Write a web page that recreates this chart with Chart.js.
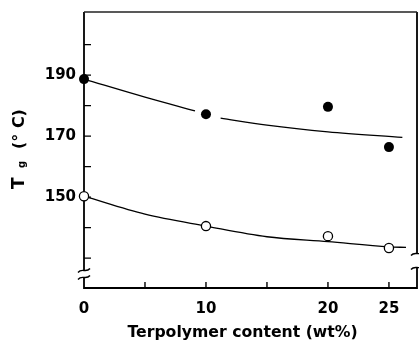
<!DOCTYPE html>
<html>
<head>
<meta charset="utf-8">
<script src="https://cdn.jsdelivr.net/npm/chart.js@4.4.0/dist/chart.umd.min.js"></script>
<style>
  html, body { margin: 0; padding: 0; background: #fff; }
  #wrap { width: 419px; height: 343px; }
</style>
</head>
<body>
<div id="wrap"><canvas id="tgChart" width="419" height="343"></canvas></div>
<script>
// Terpolymer content (wt%) for the measured samples
const contentPct = [0, 10, 20, 25];
// Tg of the two phases, deg C
const tgFilled = [188.7, 177.2, 179.6, 166.4];
const tgOpen = [150.3, 140.5, 137.2, 133.3];

// hand-drawn trend lines (null leaves the gap beside the 10 wt% dot)
const upperLineX = [0, 5, 9.1, 10.2, 11.2, 15, 20, 26.1];
const upperLineY = [188.7, 182.8, 178.3, null, 175.9, 173.6, 171.4, 169.6];
const lowerLineX = [0, 5, 10, 15, 20, 25, 26.4];
const lowerLineY = [150.3, 144.4, 140.5, 137.0, 135.4, 133.7, 133.5];

// axis ticks
const xTickValues = [0, 5, 10, 15, 20, 25];
const xTickLabels = [0, 10, 20, 25];
const yTickValues = [130, 140, 150, 160, 170, 180, 190, 200];
const yTickLabels = [150, 170, 190];

const toPoints = (xs, ys) => xs.map((x, i) => ({ x: x, y: ys[i] }));

Chart.defaults.font.family = "'DejaVu Sans', sans-serif";
Chart.defaults.font.weight = 'bold';
Chart.defaults.color = '#000';

// frame, inward ticks and the axis breaks
const framePlugin = {
  id: 'frame',
  beforeDatasetsDraw(chart) {
    const { ctx, chartArea: a, scales } = chart;
    const xs = scales.x, ys = scales.y;
    ctx.save();
    ctx.strokeStyle = '#000';
    ctx.lineCap = 'butt';

    // box
    ctx.lineWidth = 1.8;
    ctx.beginPath();
    ctx.moveTo(a.left, a.top);
    ctx.lineTo(a.left, a.bottom);
    ctx.lineTo(a.right, a.bottom);
    ctx.lineTo(a.right, a.top);
    ctx.stroke();
    ctx.lineWidth = 1.4;
    ctx.strokeStyle = '#222';
    ctx.beginPath();
    ctx.moveTo(a.left, a.top);
    ctx.lineTo(a.right, a.top);
    ctx.stroke();
    ctx.strokeStyle = '#000';

    // ticks pointing into the plot
    ctx.lineWidth = 1.4;
    ctx.beginPath();
    xTickValues.forEach(v => {
      if (v === 0) return;
      const px = xs.getPixelForValue(v);
      ctx.moveTo(px, a.bottom);
      ctx.lineTo(px, a.bottom - 6);
    });
    yTickValues.forEach(v => {
      const py = ys.getPixelForValue(v);
      ctx.moveTo(a.left, py);
      ctx.lineTo(a.left + 7, py);
    });
    ctx.stroke();

    // break marks
    const drawBreak = (cx, cy, gap) => {
      ctx.fillStyle = '#fff';
      ctx.fillRect(cx - 3, cy - gap / 2, 6, gap);
      ctx.lineWidth = 1.4;
      [-gap / 2, gap / 2].forEach(off => {
        const y0 = cy + off;
        ctx.beginPath();
        ctx.moveTo(cx - 6, y0 + 2);
        ctx.bezierCurveTo(cx - 2, y0 - 3, cx + 2, y0 + 3, cx + 6, y0 - 2);
        ctx.stroke();
      });
    };
    drawBreak(a.left, ys.getPixelForValue(124.8), 7);
    drawBreak(a.right, ys.getPixelForValue(129.2), 14);
    ctx.restore();
  },
  afterDraw(chart) {
    const { ctx, scales } = chart;
    ctx.save();
    ctx.fillStyle = '#000';

    // x title under the axis
    ctx.font = "bold 15.7px 'DejaVu Sans'";
    ctx.textAlign = 'center';
    ctx.textBaseline = 'alphabetic';
    ctx.fillText('Terpolymer content (wt%)', scales.x.getPixelForValue(13), 337);

    // y title: T with subscript g, then (° C), reading upwards
    ctx.translate(24, 189);
    ctx.rotate(-Math.PI / 2);
    ctx.textAlign = 'left';
    ctx.font = "bold 17px 'DejaVu Sans'";
    ctx.fillText('T', 0, 0);
    ctx.font = "bold 10px 'DejaVu Sans'";
    ctx.fillText('g', 21, 1);
    ctx.font = "bold 16px 'DejaVu Sans'";
    ctx.fillText('(\u00B0 C)', 40, 0);
    ctx.restore();
  }
};

new Chart(document.getElementById('tgChart'), {
  type: 'scatter',
  data: {
    datasets: [
      {
        data: toPoints(contentPct, tgFilled),
        backgroundColor: '#000',
        borderColor: '#000',
        borderWidth: 0,
        pointRadius: 5,
        showLine: false,
        clip: false,
        order: 0
      },
      {
        data: toPoints(contentPct, tgOpen),
        backgroundColor: '#fff',
        borderColor: '#000',
        borderWidth: 1.3,
        pointRadius: 4.6,
        showLine: false,
        clip: false,
        order: 0
      },
      {
        data: toPoints(upperLineX, upperLineY),
        showLine: true,
        borderColor: '#000',
        borderWidth: 1.3,
        pointRadius: 0,
        cubicInterpolationMode: 'monotone',
        spanGaps: false,
        clip: false,
        order: 1
      },
      {
        data: toPoints(lowerLineX, lowerLineY),
        showLine: true,
        borderColor: '#000',
        borderWidth: 1.3,
        pointRadius: 0,
        cubicInterpolationMode: 'monotone',
        clip: false,
        order: 1
      }
    ]
  },
  options: {
    responsive: false,
    animation: false,
    events: [],
    // no extra room for point radius, the frame sits right at the edge
    layout: { autoPadding: false, padding: { top: 12, right: 2, left: 0, bottom: 0 } },
    plugins: {
      legend: { display: false },
      tooltip: { enabled: false }
    },
    scales: {
      x: {
        type: 'linear',
        min: 0,
        max: 27.3,
        grid: { display: false, drawTicks: false },
        border: { display: false },
        afterBuildTicks: s => { s.ticks = xTickValues.map(v => ({ value: v })); },
        afterFit: s => { s.height = 55; s.paddingLeft = 0; s.paddingRight = 0; },
        ticks: {
          padding: 12,
          font: { size: 15, weight: 'bold' },
          maxRotation: 0,
          autoSkip: false,
          callback: v => xTickLabels.includes(v) ? String(v) : ''
        }
      },
      y: {
        min: 120.2,
        max: 210.7,
        grid: { display: false, drawTicks: false },
        border: { display: false },
        afterBuildTicks: s => { s.ticks = yTickValues.map(v => ({ value: v })); },
        afterFit: s => { s.width = 84; s.paddingTop = 0; s.paddingBottom = 0; },
        ticks: {
          padding: 8,
          font: { size: 15, weight: 'bold' },
          autoSkip: false,
          callback: v => yTickLabels.includes(v) ? String(v) : ''
        }
      }
    }
  },
  plugins: [framePlugin]
});
</script>
</body>
</html>
